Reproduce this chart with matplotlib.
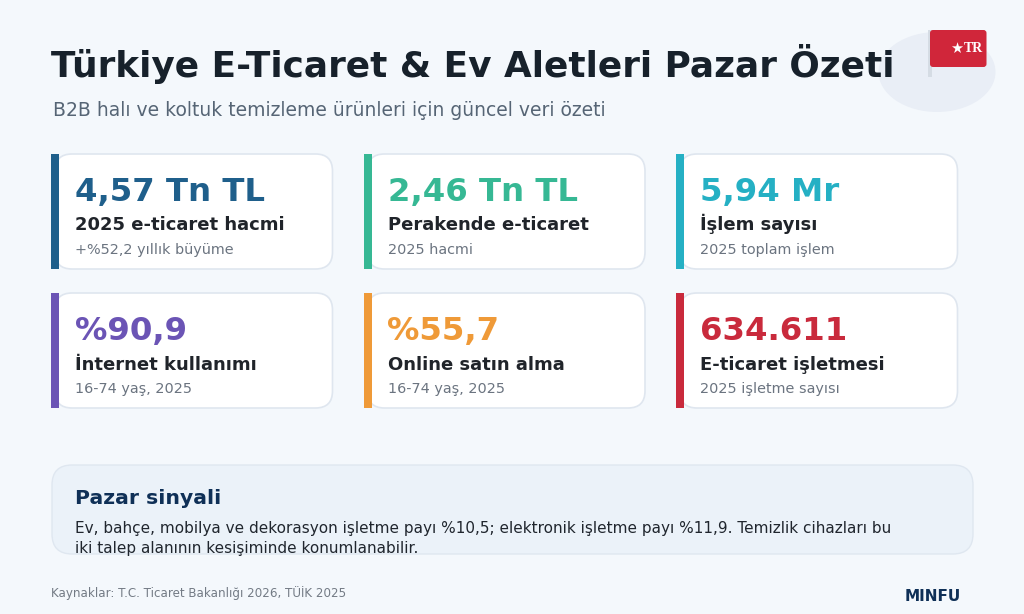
import matplotlib
matplotlib.use("Agg")
import matplotlib.pyplot as plt
from matplotlib.patches import FancyBboxPatch, Rectangle, Ellipse

title = "Türkiye E-Ticaret & Ev Aletleri Pazar Özeti"
subtitle = "B2B halı ve koltuk temizleme ürünleri için güncel veri özeti"

card_values = ["4,57 Tn TL", "2,46 Tn TL", "5,94 Mr", "%90,9", "%55,7", "634.611"]
card_labels = ["2025 e-ticaret hacmi", "Perakende e-ticaret", "İşlem sayısı",
               "İnternet kullanımı", "Online satın alma", "E-ticaret işletmesi"]
card_notes = ["+%52,2 yıllık büyüme", "2025 hacmi", "2025 toplam işlem",
              "16-74 yaş, 2025", "16-74 yaş, 2025", "2025 işletme sayısı"]
card_colors = ["#1f5f8b", "#36b894", "#25b0c4", "#6b54b5", "#ef9a38", "#c92a3c"]

signal_title = "Pazar sinyali"
signal_lines = ["Ev, bahçe, mobilya ve dekorasyon işletme payı %10,5; elektronik işletme payı %11,9. Temizlik cihazları bu",
                "iki talep alanının kesişiminde konumlanabilir."]
source = "Kaynaklar: T.C. Ticaret Bakanlığı 2026, TÜİK 2025"
brand = "MINFU"

plt.rcParams['font.family'] = ['DejaVu Sans']

fig = plt.figure(figsize=(10.24, 6.14), dpi=100, facecolor="#f4f8fc")
ax = fig.add_axes([0, 0, 1, 1])
ax.set_xlim(0, 1024)
ax.set_ylim(614, 0)
ax.axis("off")

# flag in the corner
ax.add_patch(Ellipse((937, 72), 117, 80, fc="#e9eef6", ec="none", zorder=1))
ax.add_patch(Rectangle((928, 30), 4, 47, fc="#d5dce4", ec="none", zorder=2))
ax.add_patch(FancyBboxPatch((933, 33), 50.5, 31, boxstyle="round,pad=3,rounding_size=3",
                            fc="#d0263a", ec="none", zorder=3))
ax.text(957, 48.5, "★", color="white", fontsize=10.5, ha="center", va="center", zorder=4)
ax.text(973, 48.5, "TR", color="white", fontsize=10, fontweight="bold", family="Liberation Serif",
        ha="center", va="center", zorder=4)

ax.text(51, 77.5, title, fontsize=25.8, fontweight="bold", color="#17212b", va="baseline", zorder=5)
ax.text(53, 116, subtitle, fontsize=13.5, color="#566575", va="baseline")

# six cards, 3 x 2
card_x = [55, 367.5, 680]
card_y = [154, 293]
for i in range(6):
    x = card_x[i % 3]
    y = card_y[i // 3]
    ax.add_patch(FancyBboxPatch((x, y), 277.5, 115, boxstyle="round,pad=0,rounding_size=17",
                                fc="white", ec="#dfe6ef", lw=1.2, zorder=2))
    ax.add_patch(Rectangle((x - 4, y), 8, 115, fc=card_colors[i], ec="none", zorder=3))
    ax.text(x + 20, y + 47, card_values[i], fontsize=23.3, fontweight="bold",
            color=card_colors[i], va="baseline", zorder=4)
    ax.text(x + 20, y + 76.5, card_labels[i], fontsize=13, fontweight="bold",
            color="#20242a", va="baseline", zorder=4)
    ax.text(x + 20, y + 100, card_notes[i], fontsize=10.4, color="#6b7480", va="baseline", zorder=4)

# bottom box
ax.add_patch(FancyBboxPatch((52, 465), 921, 89, boxstyle="round,pad=0,rounding_size=20",
                            fc="#ebf2f9", ec="#dfe7f0", lw=1, zorder=2))
ax.text(75, 504.5, signal_title, fontsize=14.7, fontweight="bold", color="#0f3057", va="baseline", zorder=4)
ax.text(75, 533.5, signal_lines[0], fontsize=11, color="#20262e", va="baseline", zorder=4)
ax.text(75, 553, signal_lines[1], fontsize=11, color="#20262e", va="baseline", zorder=4)

ax.text(51, 597.5, source, fontsize=8.55, color="#737b85", va="baseline")
ax.text(905, 601, brand, fontsize=11, fontweight="bold", color="#0f3057", va="baseline")

fig.savefig("out.png", dpi=100, facecolor=fig.get_facecolor())
